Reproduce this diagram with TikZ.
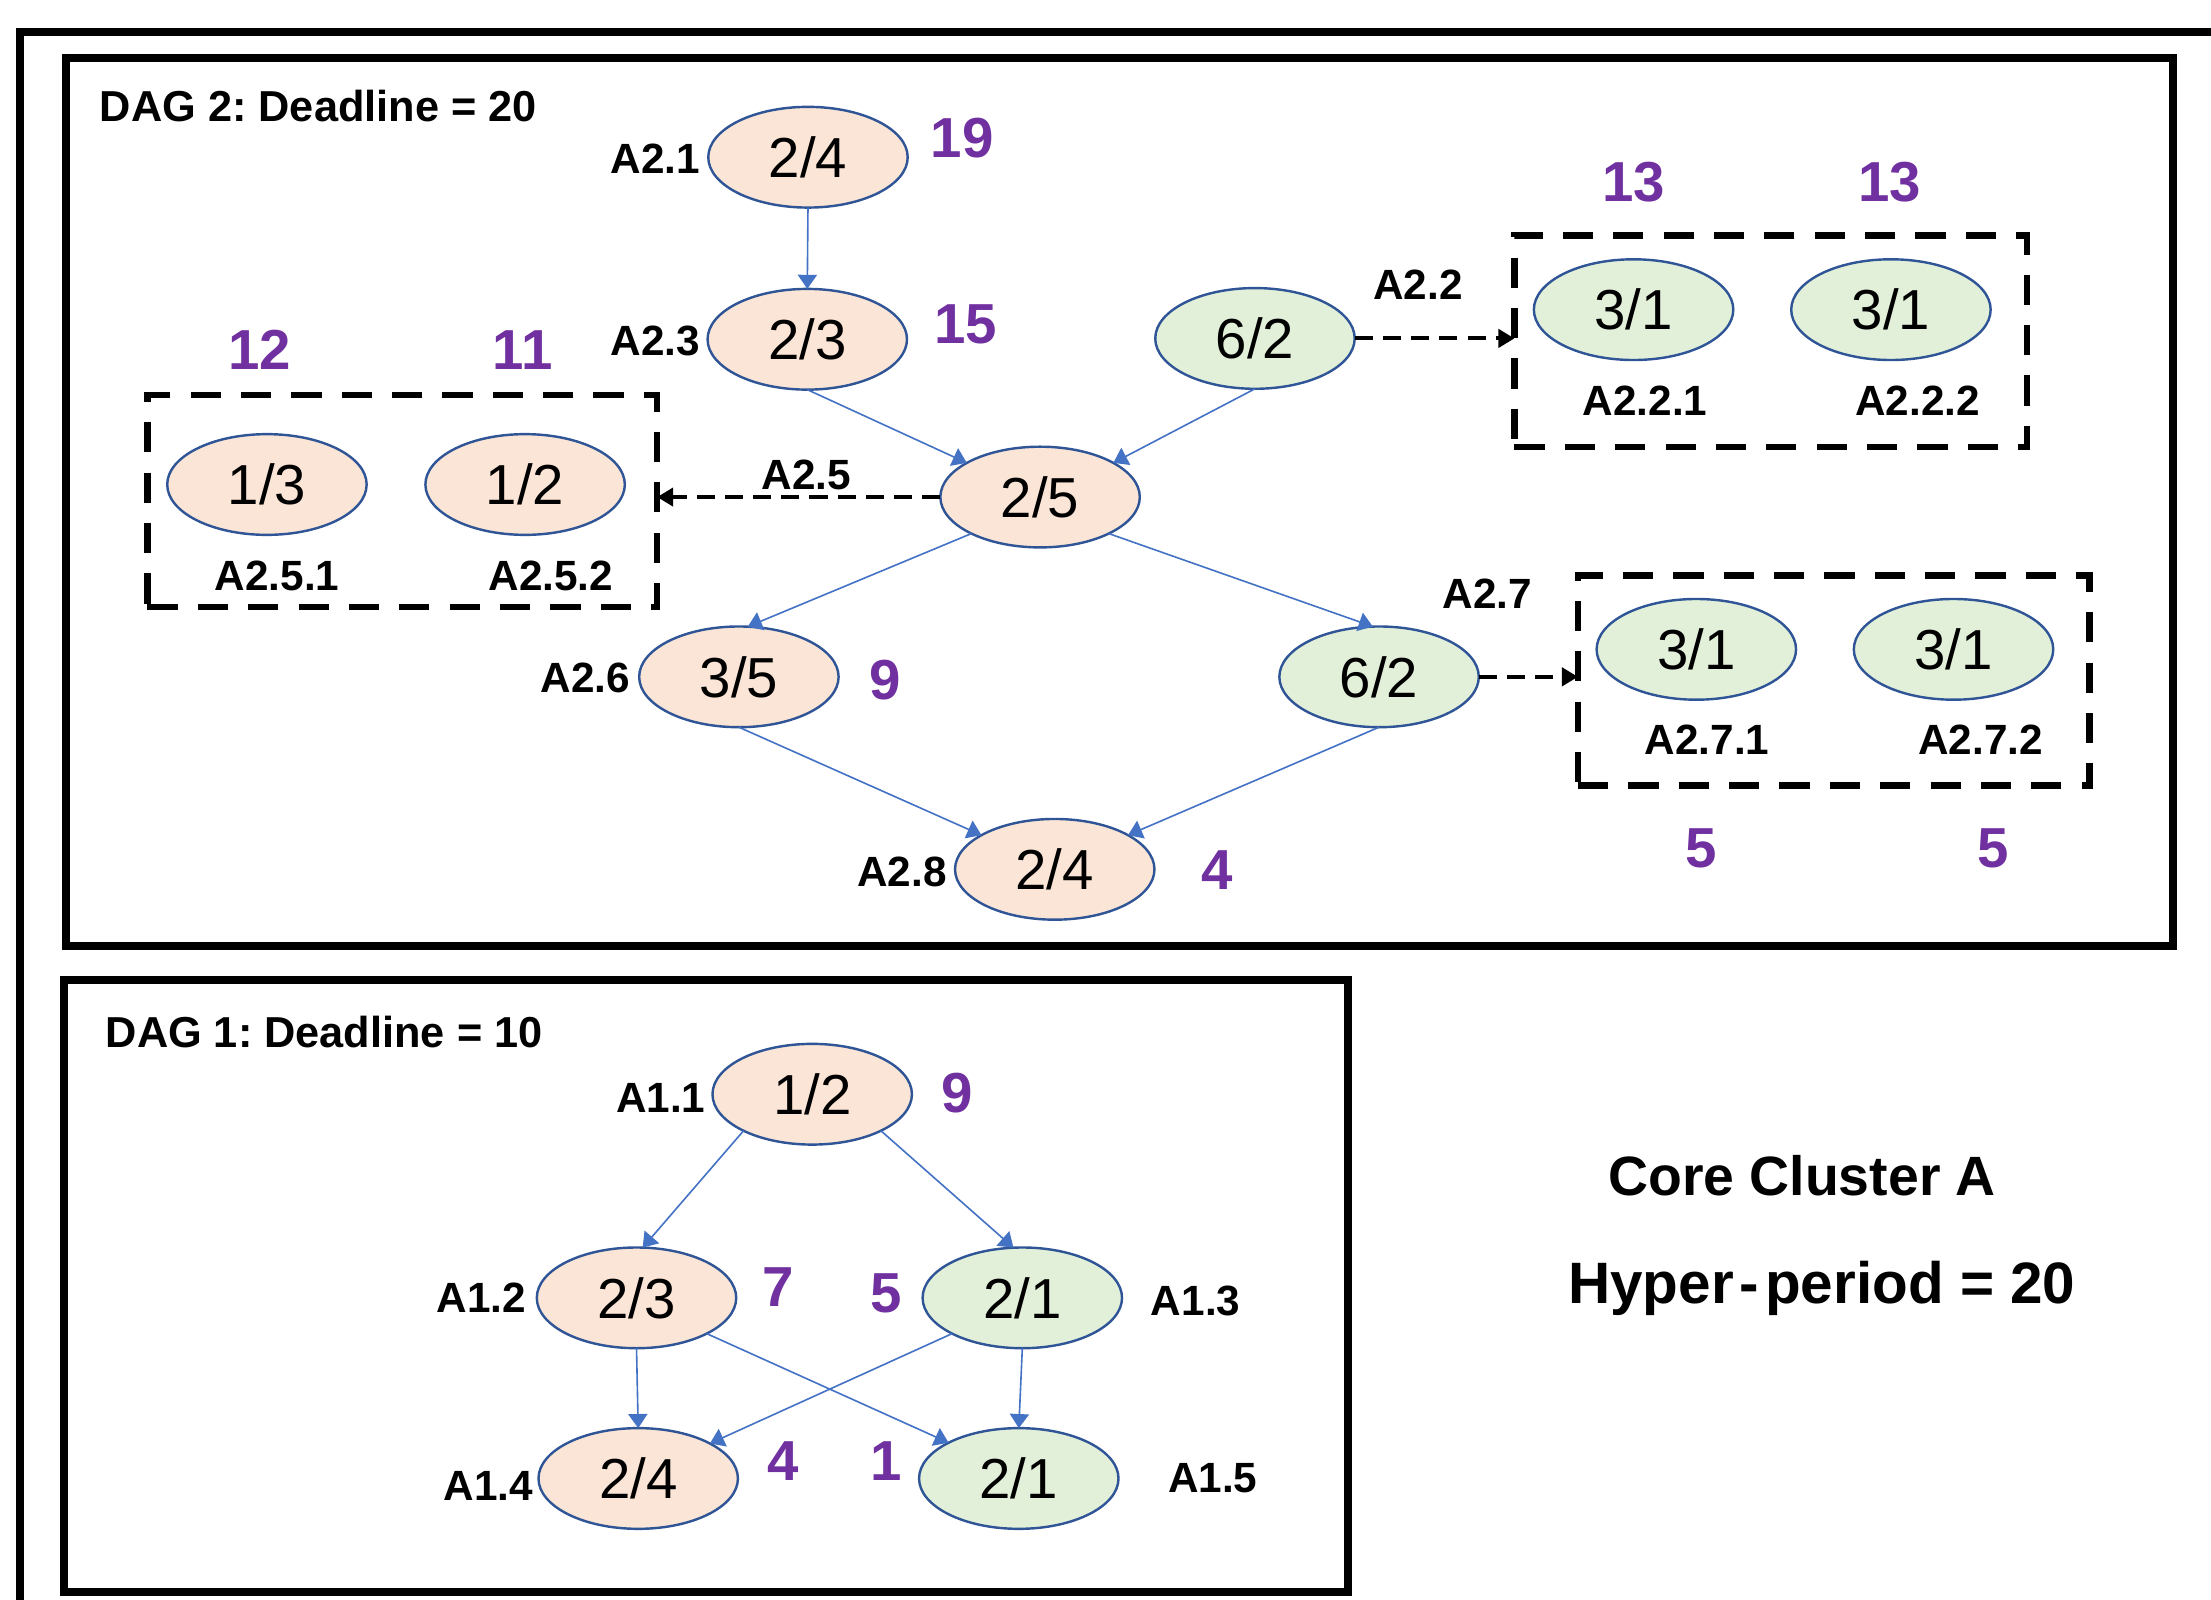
\documentclass[tikz,border=0pt]{standalone}
\usepackage{fontspec}
\setmainfont{Liberation Sans}
\usetikzlibrary{arrows.meta,shapes.geometric}
\definecolor{peach}{HTML}{FBE5D6}
\definecolor{mint}{HTML}{E2F0D9}
\definecolor{rim}{HTML}{2F5597}
\definecolor{linkblue}{HTML}{4472C4}
\definecolor{slackpurple}{HTML}{7030A0}
\frenchspacing

\begin{document}
\begin{tikzpicture}[x=0.7pt,y=-0.7pt,
  task/.style={ellipse, draw=rim, line width=1.2pt, inner sep=0pt, outer sep=0pt,
               minimum width=99pt, minimum height=50pt, font=\fontsize{28}{30}\selectfont},
  hot/.style={task, fill=peach},
  cool/.style={task, fill=mint},
  tag/.style={inner sep=0pt, font=\fontsize{21}{23}\selectfont\bfseries},
  slack/.style={inner sep=0pt, text=slackpurple, font=\fontsize{28}{30}\selectfont\bfseries},
  heading/.style={inner sep=0pt, anchor=west, font=\fontsize{21.5}{24}\selectfont\bfseries},
  banner/.style={inner sep=0pt, font=\fontsize{27.5}{32}\selectfont\bfseries},
  edge/.style={draw=linkblue, line width=0.8pt, -{Triangle[length=7pt,width=9.5pt]}},
  spawn/.style={draw=black, line width=2pt, dash pattern=on 9pt off 5pt,
                -{Triangle[length=8pt,width=9pt]}},
  group/.style={draw=black, line width=3.3pt, dash pattern=on 15pt off 10pt,
                inner sep=0pt, outer sep=0pt},
  frame/.style={draw=black, line width=4pt}
]
\useasboundingbox (0,0) rectangle (1568,1134);

% outer frame and the two DAG panels
\draw[frame] (1600,22.7) -- (14.5,22.7) -- (14.5,1160);
\draw[frame] (46.8,40.8) rectangle (1541,671);
\draw[frame] (45.7,695) rectangle (956,1129);

% ---------------- DAG 2 ----------------
\node[heading] (t2) at (70.6,75.3) {DAG 2: Deadline = 20};

\node[hot]  (a21) at (573,111.5) {2/4};
\node[hot]  (a23) at (572.5,240.6) {2/3};
\node[cool] (a22) at (890,240) {6/2};
\node[hot]  (a25) at (737.6,352.5) {2/5};
\node[hot]  (a26) at (524,480) {3/5};
\node[cool] (a27) at (978,480) {6/2};
\node[hot]  (a28) at (748,616.5) {2/4};

% spawned sub-task groups
\node[group, minimum width=253pt, minimum height=105.4pt] (g25) at (285.3,355.3) {};
\node[group, minimum width=254.5pt, minimum height=105pt] (g22) at (1255.8,242) {};
\node[group, minimum width=254pt, minimum height=104.3pt] (g27) at (1300.5,482.5) {};

\node[hot]  (a251) at (189.3,343.6) {1/3};
\node[hot]  (a252) at (372.4,343.6) {1/2};
\node[cool] (a221) at (1158.5,219.6) {3/1};
\node[cool] (a222) at (1341,219.6) {3/1};
\node[cool] (a271) at (1203,460.5) {3/1};
\node[cool] (a272) at (1385.4,460.5) {3/1};

% task names
\node[tag] (n21)  at (464.7,112.4) {A2.1};
\node[tag] (n23)  at (464.7,242) {A2.3};
\node[tag] (n22)  at (1005.6,202) {A2.2};
\node[tag] (n25)  at (572,337) {A2.5};
\node[tag] (n251) at (196.5,408.5) {A2.5.1};
\node[tag] (n252) at (390.6,408.5) {A2.5.2};
\node[tag] (n221) at (1166.7,284) {A2.2.1};
\node[tag] (n222) at (1360,284) {A2.2.2};
\node[tag] (n26)  at (415,481) {A2.6};
\node[tag] (n27)  at (1054.8,421) {A2.7};
\node[tag] (n271) at (1210.6,524.6) {A2.7.1};
\node[tag] (n272) at (1404.7,524.6) {A2.7.2};
\node[tag] (n28)  at (639.6,618) {A2.8};

% slack values
\node[slack] (s21)  at (682.4,98) {19};
\node[slack] (s23)  at (685,229.8) {15};
\node[slack] (s251) at (184,248.4) {12};
\node[slack] (s252) at (370.7,248.4) {11};
\node[slack] (s221) at (1158.6,129) {13};
\node[slack] (s222) at (1340,129) {13};
\node[slack] (s26)  at (627.7,482) {9};
\node[slack] (s271) at (1206.4,601.5) {5};
\node[slack] (s272) at (1413.5,601.5) {5};
\node[slack] (s28)  at (863,616.7) {4};

% precedence edges
\draw[edge] (a21.south) -- (a23.north);
\draw[edge] (a23.south) -- (a25.155);
\draw[edge] (a22.south) -- (a25.25);
\draw[edge] (a25.208) -- (a26.80);
\draw[edge] (a25.332) -- (a27.97);
\draw[edge] (a26.south) -- (a28.155);
\draw[edge] (a27.south) -- (a28.25);

% spawn links
\draw[spawn] (a22.east) -- (a22.east -| g22.west);
\draw[spawn] (a25.west) -- (a25.west -| g25.east);
\draw[spawn] (a27.east) -- (a27.east -| g27.west);

% ---------------- DAG 1 ----------------
\node[heading] (t1) at (74.7,732) {DAG 1: Deadline = 10};

\node[hot]  (a11) at (576,776) {1/2};
\node[hot]  (a12) at (451.4,920.4) {2/3};
\node[cool] (a13) at (725,920.4) {2/1};
\node[hot]  (a14) at (452.6,1048.5) {2/4};
\node[cool] (a15) at (722.5,1048.5) {2/1};

\node[tag] (n11) at (468.6,778.4) {A1.1};
\node[tag] (n12) at (341.3,920) {A1.2};
\node[tag] (n13) at (847.9,922.8) {A1.3};
\node[tag] (n14) at (346.2,1054) {A1.4};
\node[tag] (n15) at (860,1048) {A1.5};

\node[slack] (s11) at (678.8,775.3) {9};
\node[slack] (s12) at (552,912.5) {7};
\node[slack] (s13) at (628.8,917) {5};
\node[slack] (s14) at (555.3,1036) {4};
\node[slack] (s15) at (628.8,1036) {1};

\draw[edge] (a11.208) -- (a12.83);
\draw[edge] (a11.332) -- (a13.100);
\draw[edge] (a12.south) -- (a14.north);
\draw[edge] (a12.333) -- (a15.153);
\draw[edge] (a13.207) -- (a14.26);
\draw[edge] (a13.south) -- (a15.north);

% cluster summary
\node[banner] (cl) at (1278,833.5) {Core Cluster A};
\node[banner, anchor=base, font=\fontsize{29}{32}\selectfont\bfseries] (hp) at (1292,924.5)
  {Hyper\kern3pt-\kern3pt period = 20};

\end{tikzpicture}
\end{document}
